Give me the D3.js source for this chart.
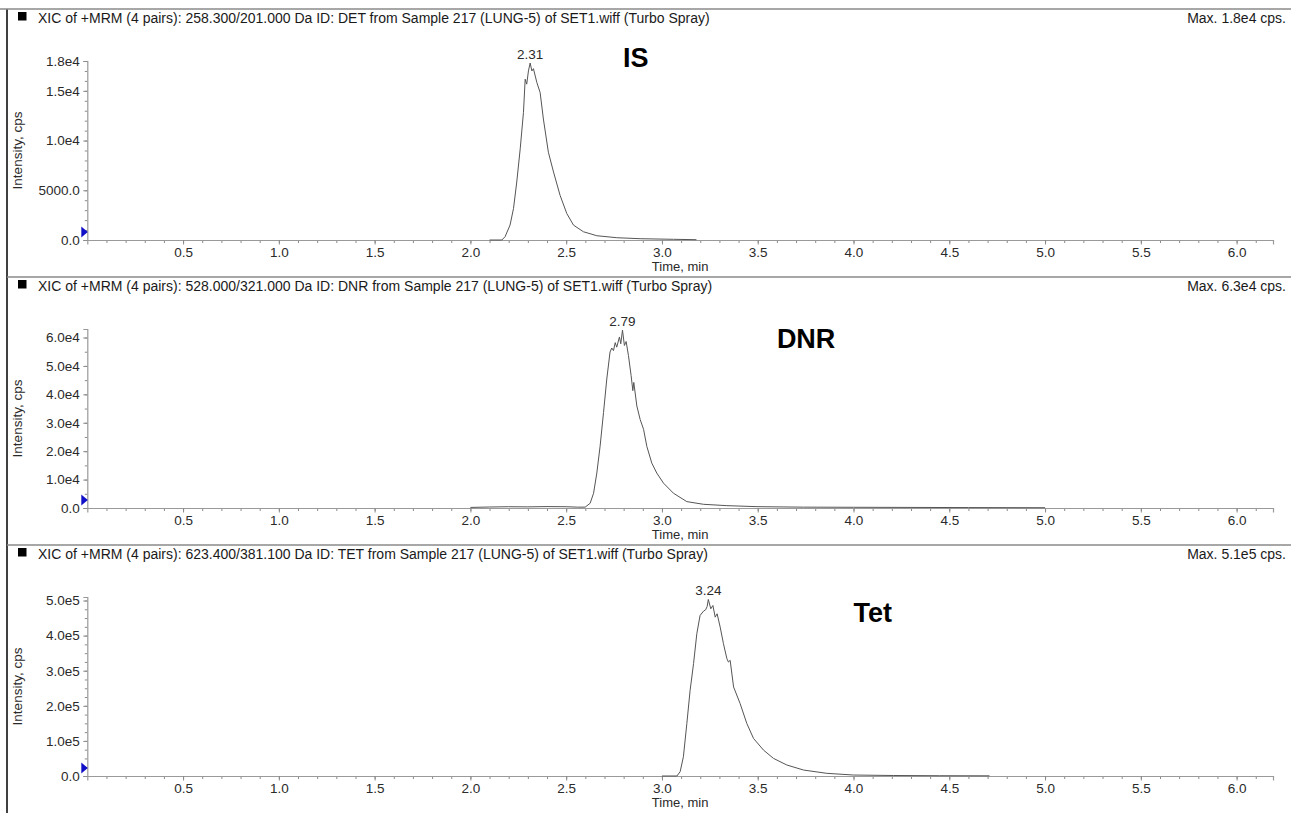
<!DOCTYPE html>
<html>
<head>
<meta charset="utf-8">
<script src="https://cdn.jsdelivr.net/npm/d3@7"></script>
<style>
  html, body { margin: 0; padding: 0; background: #fff; }
  svg { display: block; }
  text { font-family: "Liberation Sans", Arial, Helvetica, sans-serif; }
</style>
</head>
<body>
<svg id="chart" width="1291" height="813"></svg>
<script>
// ---------------- data ----------------
const titles = [
  "XIC of +MRM (4 pairs): 258.300/201.000 Da ID: DET from Sample 217 (LUNG-5) of SET1.wiff (Turbo Spray)",
  "XIC of +MRM (4 pairs): 528.000/321.000 Da ID: DNR from Sample 217 (LUNG-5) of SET1.wiff (Turbo Spray)",
  "XIC of +MRM (4 pairs): 623.400/381.100 Da ID: TET from Sample 217 (LUNG-5) of SET1.wiff (Turbo Spray)"
];
const maxLabels = ["Max. 1.8e4 cps.", "Max. 6.3e4 cps.", "Max. 5.1e5 cps."];
const compoundNames = ["IS", "DNR", "Tet"];
const peakLabels = ["2.31", "2.79", "3.24"];
const yMax = [18000, 63000, 510000];

const isYTicks = [0, 5000, 10000, 15000, 18000];
const isYLabels = ["0.0", "5000.0", "1.0e4", "1.5e4", "1.8e4"];
const dnrYTicks = [0, 10000, 20000, 30000, 40000, 50000, 60000];
const dnrYLabels = ["0.0", "1.0e4", "2.0e4", "3.0e4", "4.0e4", "5.0e4", "6.0e4"];
const tetYTicks = [0, 100000, 200000, 300000, 400000, 500000];
const tetYLabels = ["0.0", "1.0e5", "2.0e5", "3.0e5", "4.0e5", "5.0e5"];
const yMinorStep = [1000, 5000, 25000];

const xTicks = [0.5, 1.0, 1.5, 2.0, 2.5, 3.0, 3.5, 4.0, 4.5, 5.0, 5.5, 6.0];
const xTickLabels = ["0.5", "1.0", "1.5", "2.0", "2.5", "3.0", "3.5", "4.0", "4.5", "5.0", "5.5", "6.0"];
const xMax = 6.19;

// chromatogram traces (time, min / intensity, cps)
const isTime = [2.10, 2.164, 2.181, 2.207, 2.225, 2.242, 2.26, 2.277, 2.286, 2.294, 2.303, 2.312, 2.321, 2.329, 2.347, 2.364, 2.381, 2.407, 2.434, 2.468, 2.503, 2.538, 2.59, 2.66, 2.764, 2.886, 3.06, 3.18];
const isIntensity = [0, 0, 330, 1500, 3170, 5830, 9170, 12830, 16170, 15670, 17000, 17800, 17000, 17230, 15830, 14830, 12170, 8830, 6830, 4500, 2670, 1500, 830, 430, 230, 130, 70, 30];

const dnrTime = [2.0, 2.1, 2.2, 2.3, 2.4, 2.5, 2.56, 2.599, 2.625, 2.643, 2.66, 2.677, 2.695, 2.712, 2.729, 2.738, 2.747, 2.756, 2.764, 2.778, 2.785, 2.794, 2.804, 2.813, 2.825, 2.839, 2.848, 2.853, 2.869, 2.886, 2.904, 2.921, 2.947, 2.973, 3.008, 3.06, 3.13, 3.217, 3.339, 3.496, 3.739, 4.0, 4.3, 4.6, 5.0];
const dnrIntensity = [200, 350, 450, 400, 500, 450, 300, 300, 1650, 5200, 12300, 21700, 33600, 45400, 54900, 56300, 55400, 58200, 56600, 60200, 57800, 62600, 57200, 58600, 53700, 46600, 41300, 44200, 35900, 31200, 27700, 21700, 15800, 12300, 8750, 5200, 2240, 1300, 830, 470, 300, 250, 200, 150, 100];

const tetTime = [3.0, 3.078, 3.095, 3.112, 3.13, 3.147, 3.165, 3.182, 3.199, 3.217, 3.228, 3.236, 3.242, 3.255, 3.266, 3.278, 3.288, 3.304, 3.321, 3.339, 3.347, 3.356, 3.374, 3.408, 3.443, 3.478, 3.53, 3.582, 3.652, 3.739, 3.861, 4.0, 4.21, 4.45, 4.71];
const tetIntensity = [0, 0, 12200, 54900, 149700, 244300, 320200, 405400, 457400, 469700, 473600, 483000, 503000, 476400, 485800, 452600, 462200, 424200, 377000, 334400, 324700, 329600, 253700, 206500, 149700, 107100, 73900, 50300, 31300, 17000, 7600, 2800, 1400, 800, 500];

// compound label anchors in data space (time, intensity)
const compoundTime = [2.797, 3.60, 4.0];
const compoundIntensity = [17400, 56300, 438800];

// ---------------- layout ----------------
const W = 1291, H = 813;
const axisLeft = 87.3, axisRight = 1273;
const plotH = 179;
const panelStep = 268, firstTop = 9;

const panels = [
  {time: isTime, inten: isIntensity, ticks: isYTicks, labels: isYLabels},
  {time: dnrTime, inten: dnrIntensity, ticks: dnrYTicks, labels: dnrYLabels},
  {time: tetTime, inten: tetIntensity, ticks: tetYTicks, labels: tetYLabels}
];

const svg = d3.select("#chart");
svg.append("rect").attr("width", W).attr("height", H).attr("fill", "#fff");

const x = d3.scaleLinear().domain([0, xMax]).range([axisLeft, axisRight]);

// left border
svg.append("line").attr("x1", 7).attr("x2", 7).attr("y1", firstTop).attr("y2", H)
  .attr("stroke", "#000").attr("stroke-width", 1.5);

panels.forEach((p, i) => {
  const top = firstTop + panelStep * i;
  const base = top + 231;
  const y = d3.scaleLinear().domain([0, yMax[i]]).range([base, base - plotH]);
  const g = svg.append("g");

  // separator line
  g.append("line").attr("x1", i === 0 ? 0 : 7).attr("x2", W).attr("y1", top).attr("y2", top)
    .attr("stroke", "#8a8a8a").attr("stroke-width", 1.5);

  // title
  g.append("rect").attr("x", 18).attr("y", top + 3).attr("width", 8.5).attr("height", 8.5).attr("fill", "#000");
  g.append("text").attr("x", 38).attr("y", top + 14).attr("font-size", 14).attr("fill", "#1a1a1a").text(titles[i]);
  g.append("text").attr("x", 1286).attr("y", top + 14).attr("font-size", 14).attr("fill", "#1a1a1a")
    .attr("text-anchor", "end").text(maxLabels[i]);

  // minor ticks
  const yMinor = d3.range(0, yMax[i] + 1, yMinorStep[i]);
  const xMinor = d3.range(1, Math.floor(xMax * 10) + 1).map(v => v / 10);

  const yMinorAxis = d3.axisLeft(y).tickValues(yMinor).tickSize(2.5).tickFormat("");
  const gy2 = g.append("g").attr("transform", `translate(${axisLeft},0)`).call(yMinorAxis);
  const xMinorAxis = d3.axisBottom(x).tickValues(xMinor).tickSize(3).tickFormat("");
  const gx2 = g.append("g").attr("transform", `translate(0,${base})`).call(xMinorAxis);

  // major axes
  const yAxis = d3.axisLeft(y).tickValues(p.ticks).tickSize(4).tickPadding(3.5)
    .tickFormat((d, k) => p.labels[k]);
  const gy = g.append("g").attr("transform", `translate(${axisLeft},0)`).call(yAxis);
  const xAxis = d3.axisBottom(x).tickValues(xTicks).tickSize(4.5).tickPadding(3)
    .tickFormat((d, k) => xTickLabels[k]);
  const gx = g.append("g").attr("transform", `translate(0,${base})`).call(xAxis);

  [gy, gx, gy2, gx2].forEach(a => {
    a.select(".domain").attr("stroke", "#9a9a9a").attr("stroke-width", 1.2);
    a.selectAll(".tick line").attr("stroke", "#8a8a8a");
    a.selectAll("text").attr("font-size", 13.5).attr("fill", "#2a2a2a")
      .attr("font-family", "'Liberation Sans', Arial, sans-serif");
  });
  gy2.select(".domain").remove();
  gx2.select(".domain").remove();

  // axis titles
  g.append("text").attr("x", (axisLeft + axisRight) / 2).attr("y", base + 30.5)
    .attr("text-anchor", "middle").attr("font-size", 13).attr("fill", "#2a2a2a").text("Time, min");
  g.append("text").attr("transform", `translate(22,${base - plotH / 2}) rotate(-90)`)
    .attr("text-anchor", "middle").attr("font-size", 13.5).attr("fill", "#2a2a2a").text("Intensity, cps");

  // blue marker
  const my = base - 8;
  g.append("path").attr("d", `M${axisLeft - 6},${my - 5.5} L${axisLeft + 0.5},${my} L${axisLeft - 6},${my + 5.5} Z`)
    .attr("fill", "#1010c8");

  // trace
  const pts = p.time.map((t, k) => [t, p.inten[k]]);
  const line = d3.line().x(d => x(d[0])).y(d => y(d[1]));
  g.append("path").datum(pts).attr("d", line).attr("fill", "none")
    .attr("stroke", "#555").attr("stroke-width", 1).attr("stroke-linejoin", "round");

  // peak label
  const mi = d3.maxIndex(p.inten);
  g.append("text").attr("x", x(p.time[mi])).attr("y", y(p.inten[mi]) - 4)
    .attr("text-anchor", "middle").attr("font-size", 13.5).attr("fill", "#2a2a2a").text(peakLabels[i]);

  // compound label
  g.append("text").attr("x", x(compoundTime[i])).attr("y", y(compoundIntensity[i]))
    .attr("font-size", 27).attr("font-weight", "bold").attr("fill", "#000").text(compoundNames[i]);
});
</script>
</body>
</html>
